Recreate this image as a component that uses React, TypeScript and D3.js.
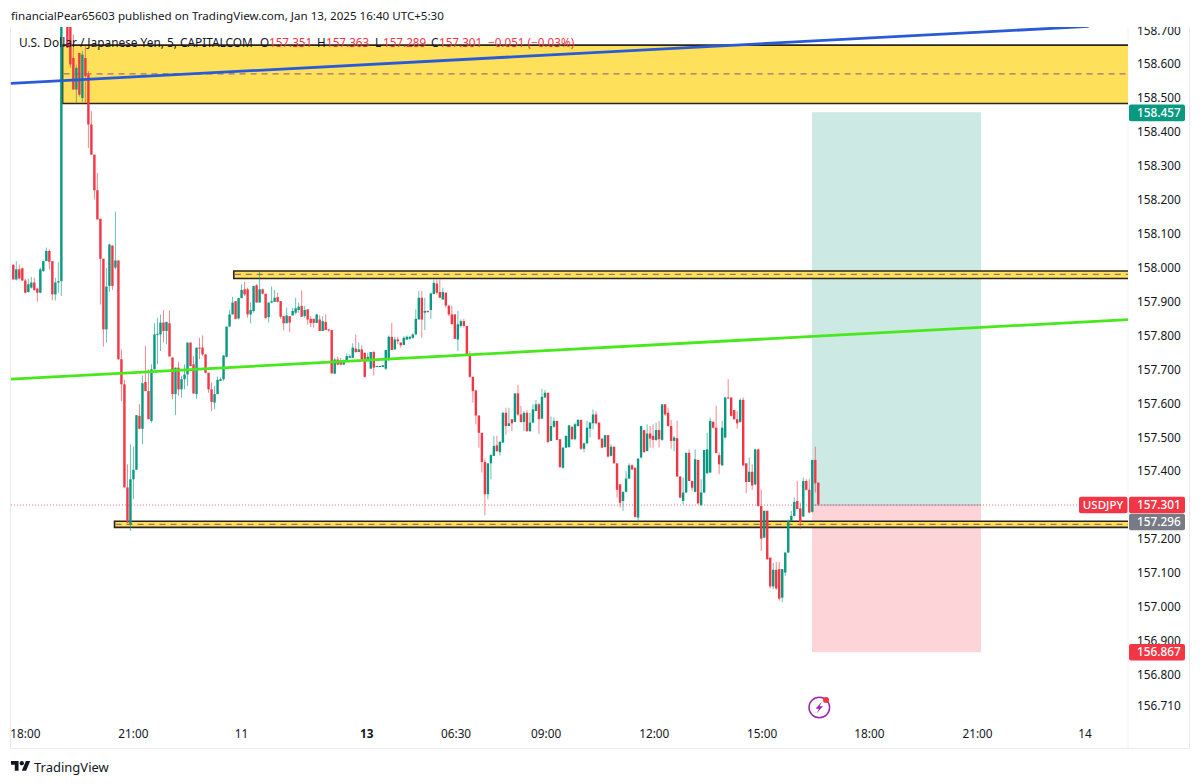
import React from "react";
import * as d3 from "d3";

const opens = [
158.009,157.966,157.996,157.999,157.963,157.929,157.942,157.957,157.939,157.927,157.991,158.020,158.050,158.020,157.922,157.957,157.961,
158.760,158.800,158.740,158.619,158.526,158.634,158.501,158.619,158.570,158.423,158.334,158.229,158.145,
158.027,157.819,157.947,158.066,158.001,158.022,157.731,157.657,157.353,157.245,157.377,157.405,157.564,157.526,157.664,157.637,157.549,157.701,157.804,157.804,
157.839,157.814,157.837,157.736,157.628,157.706,157.642,157.672,157.686,157.780,157.716,157.628,157.765,157.765,157.745,157.691,157.642,157.603,157.628,157.667,
157.672,157.738,157.827,157.863,157.902,157.851,157.911,157.937,157.937,157.863,157.873,157.949,157.898,157.937,157.924,157.855,157.898,157.900,157.914,157.902,
157.858,157.837,157.858,157.860,157.868,157.876,157.888,157.858,157.878,157.850,157.850,157.838,157.848,157.814,157.841,157.819,157.817,157.688,157.730,157.727,
157.715,157.725,157.735,157.735,157.762,157.752,157.760,157.750,157.725,157.703,157.752,157.708,157.708,157.708,157.703,157.730,157.797,157.760,157.789,157.780,
157.773,157.789,157.791,157.794,157.804,157.848,157.912,157.868,157.873,157.876,157.923,157.954,157.929,157.907,157.927,157.889,157.863,157.863,157.789,157.829,
157.843,157.829,157.745,157.679,157.639,157.565,157.514,157.428,157.333,157.424,157.446,157.477,157.457,157.485,157.573,157.534,157.554,157.546,157.630,157.568,
157.546,157.573,157.519,157.544,157.578,157.598,157.556,157.618,157.632,157.490,157.532,157.549,157.495,157.411,157.470,157.472,157.532,157.495,157.534,157.552,
157.467,157.483,157.526,157.542,157.568,157.544,157.497,157.472,157.507,157.446,157.473,157.424,157.362,157.313,157.340,157.379,157.418,157.411,157.264,157.441,
157.522,157.460,157.512,157.505,157.493,157.522,157.493,157.598,157.573,157.534,157.490,157.498,157.385,157.313,157.338,157.455,157.372,157.340,157.434,157.300,
157.338,157.395,157.397,157.546,157.529,157.448,157.418,157.500,157.618,157.618,157.581,157.554,157.546,157.611,157.424,157.369,157.399,157.362,157.465,157.298,
157.205,157.284,157.146,157.061,157.110,157.112,157.028,157.102,157.161,157.254,157.269,157.313,157.291,157.267,157.372,157.346,157.281,157.434,157.367];

const highs = [
158.012,158.020,158.010,158.001,157.968,157.968,157.974,157.971,157.942,158.001,158.022,158.060,158.055,158.020,157.971,158.017,158.780,
158.900,158.850,158.800,158.688,158.600,158.634,158.640,158.654,158.580,158.462,158.334,158.280,158.145,
158.027,158.000,158.072,158.066,158.166,158.022,157.760,157.670,157.421,157.480,157.473,157.566,157.598,157.683,157.770,157.701,157.716,157.837,157.853,157.863,
157.875,157.841,157.875,157.736,157.706,157.723,157.682,157.716,157.780,157.780,157.740,157.765,157.794,157.801,157.745,157.691,157.662,157.652,157.680,157.677,
157.742,157.827,157.876,157.915,157.902,157.911,157.952,157.959,157.942,157.898,157.947,157.952,157.988,157.939,157.924,157.898,157.945,157.935,157.927,157.902,
157.858,157.883,157.858,157.883,157.912,157.898,157.934,157.888,157.878,157.858,157.850,157.863,157.860,157.858,157.863,157.819,157.817,157.735,157.738,157.735,
157.730,157.748,157.745,157.778,157.804,157.780,157.772,157.750,157.750,157.752,157.755,157.711,157.711,157.713,157.758,157.801,157.838,157.797,157.797,157.780,
157.799,157.801,157.799,157.807,157.878,157.932,157.932,157.912,157.875,157.927,157.966,157.966,157.966,157.942,157.927,157.889,157.889,157.863,157.873,157.848,
157.850,157.829,157.755,157.679,157.639,157.565,157.514,157.438,157.424,157.451,157.505,157.505,157.490,157.575,157.588,157.588,157.554,157.630,157.655,157.593,
157.578,157.581,157.573,157.598,157.611,157.603,157.644,157.640,157.632,157.562,157.559,157.549,157.495,157.473,157.505,157.536,157.532,157.544,157.554,157.552,
157.485,157.549,157.546,157.583,157.578,157.544,157.497,157.507,157.507,157.480,157.473,157.424,157.362,157.340,157.401,157.424,157.421,157.411,157.438,157.534,
157.522,157.539,157.534,157.539,157.544,157.549,157.598,157.598,157.588,157.552,157.505,157.549,157.385,157.382,157.455,157.465,157.372,157.465,157.434,157.377,
157.463,157.514,157.559,157.549,157.593,157.456,157.549,157.620,157.672,157.618,157.581,157.578,157.615,157.618,157.424,157.441,157.421,157.467,157.467,157.347,
157.284,157.284,157.146,157.130,157.133,157.133,157.112,157.161,157.259,157.284,157.323,157.372,157.308,157.382,157.377,157.377,157.434,157.473,157.367];

const lows = [
157.966,157.963,157.966,157.961,157.925,157.927,157.939,157.932,157.900,157.925,157.988,158.020,157.996,157.905,157.904,157.927,157.917,
158.740,158.649,158.590,158.526,158.487,158.505,158.490,158.487,158.354,158.334,158.202,158.143,157.892,
157.768,157.780,157.930,157.935,157.996,157.729,157.608,157.353,157.249,157.225,157.318,157.405,157.524,157.480,157.637,157.554,157.544,157.701,157.716,157.755,
157.780,157.775,157.739,157.613,157.566,157.623,157.618,157.642,157.652,157.709,157.628,157.613,157.731,157.740,157.689,157.632,157.578,157.583,157.628,157.667,
157.667,157.736,157.827,157.863,157.848,157.848,157.911,157.917,157.853,157.837,157.868,157.898,157.898,157.922,157.850,157.839,157.896,157.900,157.898,157.850,
157.816,157.837,157.811,157.860,157.863,157.868,157.856,157.853,157.833,157.826,157.824,157.838,157.814,157.814,157.817,157.812,157.689,157.688,157.713,157.713,
157.715,157.725,157.735,157.735,157.750,157.752,157.730,157.676,157.725,157.703,157.683,157.708,157.708,157.708,157.699,157.725,157.758,157.758,157.775,157.765,
157.772,157.787,157.789,157.791,157.804,157.848,157.794,157.817,157.868,157.850,157.923,157.922,157.912,157.907,157.883,157.858,157.834,157.791,157.755,157.824,
157.824,157.745,157.676,157.603,157.539,157.470,157.397,157.271,157.318,157.377,157.446,157.457,157.446,157.485,157.509,157.534,157.519,157.546,157.563,157.544,
157.519,157.516,157.516,157.542,157.578,157.510,157.554,157.618,157.483,157.490,157.529,157.493,157.411,157.408,157.470,157.470,157.493,157.493,157.532,157.463,
157.457,157.480,157.500,157.524,157.539,157.493,157.468,157.470,157.441,157.444,157.423,157.323,157.293,157.284,157.338,157.377,157.404,157.264,157.249,157.439,
157.455,157.460,157.470,157.470,157.490,157.470,157.490,157.564,157.532,157.467,157.460,157.385,157.320,157.303,157.336,157.372,157.343,157.338,157.303,157.300,
157.336,157.392,157.395,157.526,157.454,157.392,157.416,157.497,157.615,157.562,157.552,157.526,157.544,157.416,157.336,157.369,157.346,157.359,157.296,157.166,
157.203,157.141,157.055,157.053,157.051,157.019,157.014,157.092,157.159,157.252,157.267,157.289,157.230,157.267,157.343,157.277,157.279,157.338,157.298];

const closes = [
157.966,157.996,157.969,157.963,157.927,157.952,157.957,157.935,157.927,157.996,158.020,158.050,158.018,157.922,157.957,157.961,158.760,
158.850,158.649,158.600,158.526,158.590,158.511,158.629,158.565,158.423,158.334,158.229,158.143,158.027,
157.819,157.945,158.069,157.947,158.022,157.731,157.657,157.353,157.249,157.377,157.405,157.566,157.526,157.660,157.637,157.554,157.701,157.804,157.806,157.839,
157.814,157.841,157.739,157.628,157.706,157.642,157.672,157.686,157.780,157.711,157.630,157.765,157.763,157.745,157.691,157.642,157.605,157.628,157.670,157.672,
157.742,157.827,157.863,157.898,157.850,157.911,157.935,157.922,157.863,157.876,157.947,157.898,157.937,157.924,157.853,157.898,157.902,157.912,157.900,157.856,
157.837,157.860,157.839,157.873,157.881,157.886,157.856,157.876,157.848,157.838,157.838,157.863,157.814,157.843,157.817,157.816,157.689,157.730,157.715,157.715,
157.727,157.740,157.740,157.765,157.752,157.760,157.730,157.679,157.738,157.752,157.706,157.711,157.711,157.713,157.758,157.797,157.758,157.789,157.784,157.772,
157.794,157.797,157.797,157.804,157.850,157.912,157.848,157.873,157.870,157.925,157.956,157.927,157.912,157.929,157.889,157.863,157.834,157.791,157.834,157.843,
157.829,157.745,157.679,157.637,157.565,157.514,157.428,157.333,157.424,157.448,157.475,157.460,157.487,157.573,157.534,157.542,157.542,157.630,157.568,157.546,
157.573,157.519,157.544,157.583,157.598,157.554,157.620,157.632,157.487,157.534,157.549,157.493,157.413,157.470,157.505,157.536,157.495,157.539,157.552,157.467,
157.483,157.529,157.544,157.568,157.542,157.495,157.470,157.507,157.444,157.473,157.424,157.346,157.308,157.340,157.379,157.418,157.406,157.266,157.438,157.534,
157.457,157.512,157.497,157.493,157.522,157.495,157.598,157.568,157.534,157.490,157.500,157.385,157.323,157.338,157.455,157.372,157.352,157.436,157.306,157.338,
157.463,157.465,157.549,157.529,157.454,157.421,157.529,157.618,157.616,157.564,157.554,157.542,157.611,157.418,157.369,157.399,157.359,157.465,157.298,157.202,
157.284,157.141,157.061,157.110,157.055,157.025,157.112,157.161,157.254,157.269,157.310,157.289,157.251,157.372,157.346,157.279,157.434,157.365,157.303];

const priceTicks = [158.7,158.6,158.5,158.4,158.3,158.2,158.1,158.0,157.9,157.8,157.7,157.6,157.5,157.4,157.2,157.1,157.0,156.9,156.8,156.71];
const timeBars = [4, 40, 76, 117.7, 147.4, 177.4, 213.4, 249.3, 285, 321, 356.8];
const timeLabels = ["18:00","21:00","11","13","06:30","09:00","12:00","15:00","18:00","21:00","14"];
const lastPrice = 157.301;
const entryPrice = 157.301;
const targetPrice = 158.457;
const targetBoxTop = 158.459;
const stopPrice = 156.867;
const zonePrices = [[158.657, 158.485], [157.991, 157.969], [157.253, 157.235]];
const zoneStartBars = [16.4, 73.4, 33.7];
const zoneMid = [158.572, 157.981, 157.244];
const blueLine = [[-0.8, 158.544], [358, 158.712]];
const greenLine = [[-0.8, 157.672], [371.6, 157.848]];
const legendParts = [
  ["O", 260, "#131722"], ["157.351", 269, "#f23645"], ["H", 317, "#131722"], ["157.363", 326, "#f23645"],
  ["L", 375, "#131722"], ["157.289", 383, "#f23645"], ["C", 431, "#131722"], ["157.301", 439, "#f23645"],
  ["−0.051 (−0.03%)", 488, "#f23645"],
];

const FONT = "'Noto Sans', sans-serif";
const UP = "#089981";
const DOWN = "#f23645";
const PLOT_L = 10, PLOT_R = 1128, PLOT_T = 27, PLOT_B = 748;

const x = d3.scaleLinear().domain([0, 268]).range([13.3, 818.3]);
const y = d3.scaleLinear().domain([158.7, 156.71]).range([30.5, 705.5]);

export default function App() {
  const lineGen = d3.line().x((d: any) => x(d[0])).y((d: any) => y(d[1]));
  const bw = 2.4;
  return (
    <svg width={1200} height={784} style={{ position: "absolute", left: 0, top: 0, background: "#fff", fontFamily: FONT }}>
      <defs>
        <clipPath id="plot"><rect x={PLOT_L} y={PLOT_T} width={PLOT_R - PLOT_L} height={PLOT_B - PLOT_T} /></clipPath>
        <clipPath id="axis"><rect x={PLOT_R} y={PLOT_T} width={62} height={PLOT_B - PLOT_T} /></clipPath>
      </defs>
      <text x={11} y={19.5} fontSize={11.6} fill="#131722">financialPear65603 published on TradingView.com, Jan 13, 2025 16:40 UTC+5:30</text>
      <path d={`M${PLOT_L}.5 ${PLOT_T}V${PLOT_B}.5H1189.5V${PLOT_T}`} fill="none" stroke="#e8eaef" strokeWidth={1} />
      <line x1={PLOT_R} x2={PLOT_R} y1={PLOT_T} y2={PLOT_B} stroke="#f1f2f5" />

      <g clipPath="url(#plot)">
        {/* long position */}
        <rect x={812} width={169} y={y(targetBoxTop)} height={y(entryPrice) - y(targetBoxTop)} fill="#cde9e4" />
        <rect x={812} width={169} y={y(entryPrice)} height={y(stopPrice) - y(entryPrice)} fill="#fdd5d9" />
        <line x1={812} x2={981} y1={y(entryPrice)} y2={y(entryPrice)} stroke="#a7aab3" strokeWidth={1} />

        {/* last price line */}
        <line x1={11} x2={1078} y1={y(lastPrice)} y2={y(lastPrice)} stroke="#f23645" strokeWidth={1} strokeDasharray="1 2" opacity={0.75} />

        {/* zones */}
        {zonePrices.map((z, k) => (
          <g key={k}>
            <rect x={x(zoneStartBars[k])} y={y(z[0])} width={PLOT_R - x(zoneStartBars[k])} height={y(z[1]) - y(z[0])} fill="#ffe05a" />
            <path d={`M${PLOT_R} ${y(z[0])}H${x(zoneStartBars[k])}V${y(z[1])}H${PLOT_R}`} fill="none" stroke="#2b2418" strokeWidth={1.6} />
            <line x1={x(zoneStartBars[k]) + 1} x2={PLOT_R} y1={y(zoneMid[k])} y2={y(zoneMid[k])} stroke="#9c6f7c" strokeWidth={1.2} strokeDasharray="6 5" />
          </g>
        ))}

        {/* candles */}
        {opens.map((o, i) => {
          const c = closes[i];
          const col = c >= o ? UP : DOWN;
          const top = y(Math.max(o, c));
          const bot = y(Math.min(o, c));
          return (
            <g key={i}>
              <line x1={x(i)} x2={x(i)} y1={y(highs[i])} y2={y(lows[i])} stroke={col} strokeWidth={1} opacity={0.6} />
              <rect x={x(i) - bw / 2} y={top} width={bw} height={Math.max(1, bot - top)} fill={col} />
            </g>
          );
        })}

        {/* trend lines */}
        <path d={lineGen(blueLine as any) as string} fill="none" stroke="#2a5bd7" strokeWidth={2.8} />
        <path d={lineGen(greenLine as any) as string} fill="none" stroke="#47e81c" strokeWidth={2.8} />
      </g>

      {/* legend */}
      <text x={19} y={47} fontSize={11.85} fill="#131722">U.S. Dollar / Japanese Yen, 5, CAPITALCOM</text>
      {legendParts.map((p, k) => (
        <text key={k} x={p[1] as number} y={47} fontSize={11.7} fill={p[2] as string}>{p[0]}</text>
      ))}

      {/* price axis */}
      <g clipPath="url(#axis)">
        {priceTicks.map((t) => (
          <text key={t} x={1137} y={y(t) + 4} fontSize={11.8} fill="#131722">{t.toFixed(3)}</text>
        ))}
      </g>
      {[
        { p: targetPrice, c: UP },
        { p: stopPrice, c: DOWN },
        { p: lastPrice, c: DOWN },
      ].map((l) => (
        <g key={l.p}>
          <rect x={1129} y={y(l.p) - 8.3} width={56} height={16.6} rx={2} fill={l.c} />
          <text x={1137} y={y(l.p) + 4} fontSize={11.8} fontWeight={500} fill="#fff">{l.p.toFixed(3)}</text>
        </g>
      ))}
      <rect x={1079} y={y(lastPrice) - 8.3} width={48.5} height={16.6} rx={2} fill={DOWN} />
      <text x={1103} y={y(lastPrice) + 4} fontSize={11.5} fontWeight={500} fill="#fff" textAnchor="middle">USDJPY</text>
      <rect x={1129} y={y(lastPrice) + 8.6} width={56} height={16.6} rx={2} fill="#787b86" />
      <text x={1137} y={y(lastPrice) + 21.1} fontSize={11.8} fontWeight={500} fill="#fff">157.296</text>

      {/* time axis */}
      {timeLabels.map((t, i) => (
        <text key={i} x={x(timeBars[i])} y={738} fontSize={11.8} textAnchor="middle" fill="#131722" fontWeight={t === "13" ? 700 : 400}>{t}</text>
      ))}

      {/* flash icon */}
      <g>
        <circle cx={819.3} cy={707.5} r={10.3} fill="none" stroke="#9c27b0" strokeWidth={1.5} />
        <path d="M822 701.5L815.5 708.7H819L816.5 713.5L823 706.3H819.5Z" fill="#9c27b0" />
        <circle cx={826} cy={700} r={3} fill="#f23645" />
      </g>

      {/* footer logo */}
      <g transform="translate(11 760) scale(0.54)" fill="#131722">
        <path d="M14 22H7V11H0V4h14v18zM28 22h-8l7.5-18h8L28 22z" transform="translate(0 -2)" />
        <circle cx={20} cy={6} r={4} />
      </g>
      <text x={34} y={772} fontSize={13} fill="#131722">TradingView</text>
    </svg>
  );
}
